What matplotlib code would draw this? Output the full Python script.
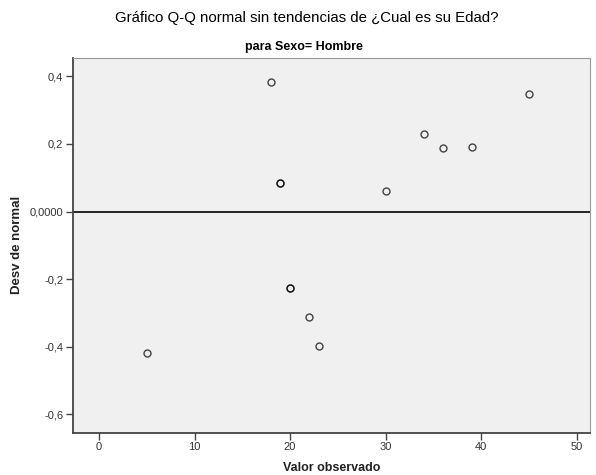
import matplotlib
matplotlib.use("Agg")
import matplotlib.pyplot as plt

plt.rcParams['font.family'] = ['Liberation Sans', 'DejaVu Sans']

# Data (observed age, deviation from normal); repeated values are duplicates
edad = [5, 18, 19, 19, 20, 20, 22, 23, 30, 34, 36, 39, 45]
desv = [-0.418, 0.384, 0.084, 0.084, -0.225, -0.225, -0.312, -0.399,
        0.061, 0.230, 0.189, 0.190, 0.347]

x_ticks = [0, 10, 20, 30, 40, 50]
y_ticks = [-0.6, -0.4, -0.2, 0.0, 0.2, 0.4]
y_tick_labels = ["-0,6", "-0,4", "-0,2", "0,0000", "0,2", "0,4"]

title = "Gráfico Q-Q normal sin tendencias de ¿Cual es su Edad?"
subtitle = "para Sexo= Hombre"
xlabel = "Valor observado"
ylabel = "Desv de normal"

fig = plt.figure(figsize=(5.96, 4.75), dpi=100)
fig.patch.set_facecolor('white')
ax = fig.add_axes([73/596, 1 - 432.7/475, (590 - 73)/596, (432.7 - 58)/475])
ax.set_facecolor('#F0F0F0')

ax.axhline(0, color='black', lw=1.2, zorder=2)
ax.plot(edad, desv, linestyle='none', marker='o', markersize=5,
        markerfacecolor='none', markeredgecolor=(0, 0, 0, 0.72),
        markeredgewidth=1.0, zorder=3)

ax.set_xlim(-2.72, 51.4)
ax.set_ylim(-0.654, 0.454)
ax.set_xticks(x_ticks)
ax.set_xticklabels([str(v) for v in x_ticks])
ax.set_yticks(y_ticks)
ax.set_yticklabels(y_tick_labels)

ax.tick_params(axis='both', direction='out', length=5, width=1,
               color='#444444', labelsize=8, labelcolor='#333333', pad=2)

for side in ['left', 'bottom']:
    ax.spines[side].set_color('#444444')
    ax.spines[side].set_linewidth(1.3)
for side in ['top', 'right']:
    ax.spines[side].set_color('#999999')
    ax.spines[side].set_linewidth(0.8)

ax.set_xlabel(xlabel, fontsize=9, fontweight='bold', color='#222222', labelpad=7)
ax.set_ylabel(ylabel, fontsize=9.5, fontweight='bold', color='#222222', labelpad=5)

fig.text(0.514, 0.962, title, ha='center', va='center', fontsize=10.8, color='black')
fig.text(0.51, 0.901, subtitle, ha='center', va='center', fontsize=9,
         fontweight='bold', color='black')

fig.savefig('out.png', dpi=100)
